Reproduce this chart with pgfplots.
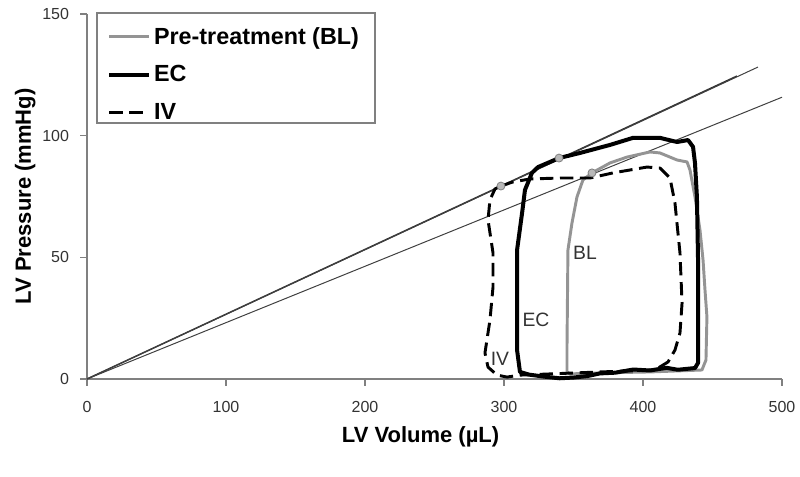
\documentclass[border=0pt]{standalone}
\usepackage{fontspec}
\setmainfont{Liberation Sans}
\usepackage{pgfplots}
\pgfplotsset{compat=1.18}
\begin{document}
\begin{tikzpicture}
\begin{axis}[
  scale only axis, width=521.25pt, height=273.75pt,
  xmin=0, xmax=500, ymin=0, ymax=150,
  axis lines=left,
  axis line style={-, draw=black!50, line width=0.9pt},
  xtick={0,100,...,500}, ytick={0,50,100,150},
  tick align=outside, major tick length=5pt,
  tick style={draw=black!50, line width=0.9pt},
  tick label style={font=\fontsize{12}{14}\selectfont, text=black!80},
  /pgf/number format/assume math mode=true,
  xticklabel style={yshift=-8.5pt},
  yticklabel style={xshift=-5pt},
  xlabel={LV Volume (µL)}, ylabel={LV Pressure (mmHg)},
  label style={font=\bfseries\fontsize{16.5}{19}\selectfont},
  xlabel style={at={(axis description cs:0.48,-0.159)}, anchor=center},
  ylabel style={at={(axis description cs:-0.089,0.5)}, anchor=center},
  clip=false,
  legend style={at={(axis description cs:0.029,0.972)}, anchor=north west,
    draw=none, fill=none, inner sep=0pt, row sep=10.5pt,
    font=\bfseries\fontsize{17.5}{20}\selectfont, cells={anchor=west}},
  legend image code/.code={\draw[#1] (0pt,0pt) -- (30pt,0pt);},
]
% end-systolic pressure-volume relations
\addplot[black!80, line width=1.1pt, forget plot] coordinates {(0,0) (467.6,124.5)};
\addplot[black!75, line width=0.75pt, forget plot] coordinates {(0,0) (482.7,128.2)};
\addplot[black!75, line width=0.75pt, forget plot] coordinates {(0,0) (500,115.8)};

% BL loop
\addplot[black!42, line width=2.2pt, line join=round] coordinates {
  (363.3,84.7) (376.3,88.8) (388.5,91.2) (405.0,93.3) (412.2,92.9)
  (424.5,90.0) (431.7,89.2) (433.8,85.9) (437.4,74.8) (441.0,61.2)
  (443.2,48.9) (444.6,36.6) (446.0,25.5) (445.3,7.8) (442.4,3.7)
  (405.0,2.9) (369.1,2.5) (347.5,2.1) (345.3,2.9) (345.3,11.9)
  (346.0,53.0) (348.9,64.1) (352.5,74.8) (356.8,81.8) (363.3,84.7)
};
\addlegendentry{Pre-treatment (BL)}

% EC loop
\addplot[black, line width=3pt, line join=round] coordinates {
  (339.6,90.8) (354.7,92.9) (376.3,96.2) (392.8,99.1) (412.2,99.1)
  (424.5,97.4) (432.4,98.2) (436.0,95.4) (437.4,88.8) (438.8,74.8)
  (439.6,48.9) (439.6,25.5) (439.6,6.6) (437.4,4.5) (425.0,3.8)
  (417.0,4.6) (405.0,3.5) (393.0,3.9) (380.0,2.6) (369.0,2.3)
  (360.0,1.2) (350.0,0.6) (340.0,0.3) (330.0,0.9) (318.0,1.8)
  (311.5,2.9) (309.4,11.9) (309.4,53.0) (313.0,68.2) (315.1,77.7)
  (320.1,84.7) (324.5,87.1) (339.6,90.8)
};
\addlegendentry{EC}

% IV loop
\addplot[black, line width=2.2pt, line join=round, dash pattern=on 10pt off 5pt] coordinates {
  (297.8,79.3) (306.5,81.0) (318.7,82.2) (340.3,82.6) (361.9,82.6)
  (378.4,84.7) (402.9,87.1) (412.2,86.7) (419.4,82.6) (423.0,72.3)
  (426.6,51.8) (428.1,31.2) (426.6,18.9) (423.0,11.9) (418.0,7.0)
  (408.6,3.7) (369.1,2.9) (311.5,1.6) (302.2,0.8) (295.0,1.6)
  (288.5,4.9) (286.3,10.7) (289.9,24.2) (292.1,37.8) (292.1,51.8)
  (288.5,65.4) (289.9,73.6) (293.5,78.1) (297.8,79.3)
};
\addlegendentry{IV}

% end-systolic points
\addplot[only marks, mark=*, mark size=3pt,
  mark options={fill=black!28, draw=black!50, line width=0.6pt}, forget plot]
  coordinates {(297.8,79.3) (339.6,90.8) (363.3,84.7)};

\node[font=\fontsize{14.5}{16}\selectfont, text=black!80] at (axis cs:358.3,51.8) {BL};
\node[font=\fontsize{14.5}{16}\selectfont, text=black!80] at (axis cs:323.0,24.5) {EC};
\node[font=\fontsize{14.5}{16}\selectfont, text=black!80] at (axis cs:297.1,8.4) {IV};

\draw[black!50, line width=0.9pt] (axis description cs:0.0144,1.0027) rectangle (axis description cs:0.4144,0.7014);
\path (axis description cs:0,0) ++(-65.25pt,-72.75pt) rectangle ++(600pt,357pt);
\end{axis}
\end{tikzpicture}
\end{document}
